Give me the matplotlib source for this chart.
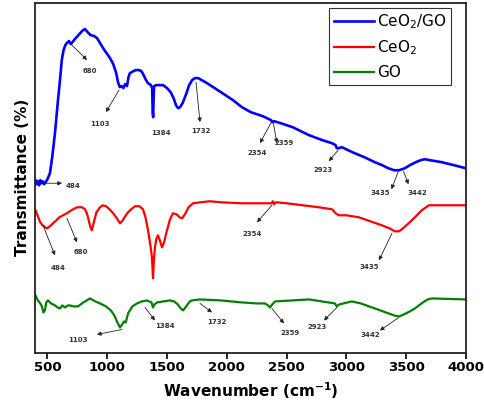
import matplotlib
matplotlib.use("Agg")
import matplotlib.pyplot as plt

plt.rcParams["mathtext.default"] = "regular"

# ---- data (wavenumber cm-1, transmittance in arbitrary offset units) ----
blue_x = [400, 410, 420, 430, 440, 450, 460, 472, 484, 500, 521, 540, 563, 585, 605, 620, 635, 650, 663,
          680, 695, 710, 730, 760, 790, 814, 835, 860, 890, 914, 940, 970, 1000, 1023, 1050, 1075,
          1090, 1105, 1120, 1135, 1150, 1165, 1178, 1190, 1205, 1220, 1240, 1265, 1285, 1300, 1320,
          1340, 1365, 1376, 1380, 1384, 1388, 1392, 1410, 1440, 1466, 1500, 1530, 1555, 1575, 1592,
          1610, 1630, 1660, 1685, 1710, 1735, 1760, 1790, 1834, 1950, 2051, 2126, 2200, 2300, 2370,
          2380, 2395, 2450, 2550, 2687, 2800, 2879, 2910, 2920, 2935, 2962, 3050, 3150, 3238, 3300,
          3350, 3400, 3440, 3489, 3530, 3580, 3620, 3656, 3700, 3798, 3900, 3999]
blue_y = [172, 168, 171, 167, 172, 169, 171, 168, 170, 173, 179, 195, 219, 248, 272, 292, 302, 307, 309,
          311, 308, 310, 313, 317, 321, 323, 320, 317, 316, 314, 309, 303, 298, 294, 288, 279,
          270, 265, 266, 264, 268, 266, 275, 279, 280, 281, 282, 282, 281, 278, 273,
          269, 267, 264, 240, 235, 255, 266, 267, 267, 267, 264, 260, 254, 247, 244,
          245, 249, 258, 267, 272, 274, 274, 272, 269, 260, 252, 245, 240, 236, 232,
          230, 231, 229, 225, 217, 212, 209, 207, 204, 204, 205, 200, 195, 190, 187,
          184, 182, 182, 184, 187, 190, 192, 193, 192, 190, 187, 184]

red_x = [400, 420, 440, 460, 480, 496, 520, 546, 575, 600, 630, 663, 700, 747, 790, 814, 830, 845, 860,
         872, 882, 892, 910, 939, 964, 990, 1020, 1050, 1080, 1107, 1130, 1150, 1174, 1200, 1232,
         1270, 1299, 1320, 1341, 1360, 1374, 1383, 1390, 1399, 1412, 1424, 1440, 1458, 1475, 1500,
         1525, 1550, 1580, 1605, 1625, 1650, 1680, 1717, 1780, 1859, 1950, 2127, 2377, 2385, 2395,
         2410, 2500, 2771, 2880, 2910, 2937, 3000, 3104, 3200, 3297, 3360, 3405, 3440, 3464, 3520,
         3573, 3630, 3690, 3999]
red_y = [142, 136, 130, 127, 125, 124, 126, 129, 132, 135, 137, 139, 142, 145, 145, 143, 139, 132, 125,
         122, 127, 132, 140, 145, 147, 146, 143, 139, 134, 129, 132, 136, 140, 143, 146,
         146, 143, 135, 122, 108, 95, 74, 92, 105, 114, 117, 112, 105, 110, 122,
         133, 139, 138, 135, 134, 138, 145, 149, 150, 151, 150, 149, 149, 151, 148,
         150, 149, 145, 143, 139, 137, 137, 135, 131, 127, 124, 121, 121, 123, 129,
         135, 142, 147, 147]

green_x = [400, 420, 440, 454, 466, 479, 490, 505, 530, 563, 585, 605, 625, 647, 670, 688, 720, 755, 800,
           856, 900, 939, 990, 1030, 1060, 1085, 1107, 1125, 1140, 1155, 1174, 1210, 1249, 1290, 1332,
           1370, 1383, 1395, 1416, 1470, 1525, 1560, 1590, 1615, 1634, 1660, 1690, 1709, 1776, 1950,
           2127, 2250, 2319, 2345, 2361, 2380, 2403, 2550, 2687, 2850, 2904, 2920, 2940, 3046, 3120,
           3238, 3330, 3400, 3439, 3480, 3530, 3573, 3640, 3680, 3715, 3999]
green_y = [57, 52, 49, 46, 40, 42, 50, 52, 49, 47, 45, 44, 47, 45, 47, 47, 46, 46, 50,
           54, 51, 49, 46, 42, 37, 30, 25, 28, 31, 30, 39, 46, 49, 51, 52,
           50, 45, 48, 50, 51, 52, 51, 48, 44, 42, 46, 51, 52, 53, 52,
           50, 49, 49, 47, 45, 48, 51, 52, 53, 50, 49, 46, 48, 51, 49,
           44, 40, 37, 36, 38, 41, 44, 50, 53, 54, 53]

series_labels = ["CeO$_2$/GO", "CeO$_2$", "GO"]
x_ticks = [500, 1000, 1500, 2000, 2500, 3000, 3500, 4000]

# annotations: (label, tail(x,y) on curve, head(x,y), text(x,y))
annotations = [
    ("484", (479, 169), (622, 169), (714, 166)),
    ("680", (705, 307), (831, 292), (856, 281)),
    ("1103", (1098, 262), (990, 240), (939, 228)),
    ("1384", None, None, (1450, 219)),
    ("1732", (1742, 270), (1776, 230), (1784, 221)),
    ("2354", (2377, 231), (2277, 209), (2252, 199)),
    ("2359", (2386, 231), (2419, 209), (2478, 209)),
    ("2923", (2930, 202), (2854, 191), (2804, 182)),
    ("3435", (3435, 181), (3376, 163), (3284, 159)),
    ("3442", (3477, 181), (3519, 168), (3594, 159)),
    ("484", (463, 127), (563, 97), (588, 84)),
    ("680", (663, 134), (747, 110), (780, 100)),
    ("2354", (2377, 147), (2252, 130), (2210, 118)),
    ("3435", (3381, 119), (3272, 92), (3189, 85)),
    ("1103", (1123, 23), (914, 18), (755, 12)),
    ("1384", (1316, 45), (1399, 32), (1483, 26)),
    ("1732", (1776, 49), (1876, 40), (1918, 30)),
    ("2359", (2377, 44), (2478, 29), (2528, 19)),
    ("2923", (2921, 45), (2812, 32), (2754, 25)),
    ("3442", (3439, 35), (3280, 22), (3197, 17)),
]

fig = plt.figure(figsize=(4.84, 4.03), dpi=100)
ax = fig.add_axes([0.0733, 0.1253, 0.8895, 0.8673])

ax.plot(blue_x, blue_y, color="#0000ff", lw=1.9, label=series_labels[0], solid_joinstyle="round")
ax.plot(red_x, red_y, color="#ff0000", lw=1.6, label=series_labels[1], solid_joinstyle="round")
ax.plot(green_x, green_y, color="#008000", lw=1.6, label=series_labels[2], solid_joinstyle="round")

for lab, tail, head, txt in annotations:
    if tail is not None:
        ax.annotate("", xy=head, xytext=tail,
                    arrowprops=dict(arrowstyle="-|>", color="#222222", lw=0.6,
                                    mutation_scale=6, shrinkA=0, shrinkB=0))
    ax.text(txt[0], txt[1], lab, fontsize=5, color="#333333", fontweight="bold",
            ha="center", va="center")

ax.set_xlim(400, 4000)
ax.set_ylim(0, 349)
ax.set_xticks(x_ticks)
ax.set_yticks([])
ax.tick_params(axis="x", direction="out", length=4, width=1.2, labelsize=9.5, pad=2)
for lbl in ax.get_xticklabels():
    lbl.set_fontweight("bold")
for sp in ax.spines.values():
    sp.set_linewidth(1.3)
    sp.set_color("#222222")

ax.set_xlabel("Wavenumber (cm$^{-1}$)", fontsize=11, fontweight="bold", labelpad=5)
ax.set_ylabel("Transmittance (%)", fontsize=11, fontweight="bold", labelpad=4)

leg = ax.legend(loc="upper right", bbox_to_anchor=(0.965, 0.986), fontsize=11,
                frameon=True, fancybox=False, edgecolor="#333333", framealpha=1,
                handlelength=2.6, handletextpad=0.2, labelspacing=0.5,
                borderpad=0.3, borderaxespad=0)
leg.get_frame().set_linewidth(0.8)

fig.savefig("out.png", dpi=100)
